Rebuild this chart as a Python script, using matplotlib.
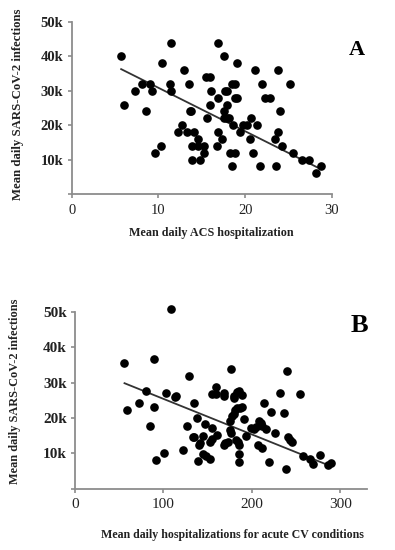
import matplotlib.pyplot as plt
import numpy as np

# panel A: mean daily ACS hospitalization vs mean daily infections (k)
acs_x = [11.4, 16.9, 5.7, 17.5, 10.4, 19.0, 12.9, 21.1, 23.8, 15.5, 15.9,
         8.1, 9.0, 11.3, 13.5, 18.5, 18.8, 21.9, 25.2,
         7.3, 9.3, 11.5, 16.0, 17.7, 17.9,
         16.9, 18.8, 19.0, 22.3, 22.8,
         6.0, 15.9, 17.9,
         8.6, 13.6, 13.8, 17.5, 24.0,
         15.6, 17.5, 17.9, 18.1, 20.7,
         12.7, 18.6, 19.8, 20.2, 21.3,
         12.25, 13.25, 14.1, 16.9, 19.4, 23.8,
         14.6, 17.35, 20.5, 23.4,
         10.25, 13.9, 14.6, 15.2, 16.7, 24.2,
         9.6, 15.2, 18.2, 18.8, 20.9, 25.5,
         13.9, 14.8, 26.5, 27.4,
         18.5, 21.7, 23.6, 28.7,
         28.1]
acs_y = [44, 44, 40, 40, 38, 38, 36, 36, 36, 34, 34,
         32, 32, 32, 32, 32, 32, 32, 32,
         30, 30, 30, 30, 30, 30,
         28, 28, 28, 28, 28,
         26, 26, 26,
         24, 24, 24, 24, 24,
         22, 22, 22, 22, 22,
         20, 20, 20, 20, 20,
         18, 18, 18, 18, 18, 18,
         16, 16, 16, 16,
         14, 14, 14, 14, 14, 14,
         12, 12, 12, 12, 12, 12,
         10, 10, 10, 10,
         8, 8, 8, 8,
         6]
acs_fit_x = [5.7, 28.5]
acs_fit_y = [36.3, 7.5]

# panel B: mean daily hospitalizations for acute CV conditions vs infections (k)
cv_x = [109, 55, 89, 129, 176, 240, 58.5, 72, 80, 85, 89.4, 91.4, 101, 103,
        113, 114.5, 122, 127, 134.6, 133, 134.6, 138, 139.5, 140, 141.4, 145,
        146.8, 145, 148, 153, 153, 155, 155.5, 155.5, 159.5, 159.5, 160.5,
        168, 169, 168, 170, 172.6, 175, 176.5, 175.7, 177.5, 179.5, 179.5,
        179.5, 181, 183, 187, 189, 183, 186, 188.6, 182, 184, 186, 185, 185.7,
        191, 194, 199, 203, 205, 208, 210, 211, 207, 211, 213.7, 216, 219,
        222, 226.6, 231.6, 237, 239, 241, 243, 245, 255, 258, 266, 269,
        277.6, 286, 290]
cv_y = [50.8, 35.4, 36.6, 31.9, 33.7, 33.2, 22.2, 24.3, 27.7, 17.7, 23.1, 8.0,
        10.2, 27.0, 25.8, 26.2, 11.0, 17.7, 24.3, 14.5, 14.7, 19.9, 7.7, 12.3,
        13.0, 9.9, 18.4, 15.0, 9.1, 8.3, 13.1, 13.9, 17.2, 26.7, 28.7, 26.7,
        15.3, 26.9, 26.1, 12.4, 12.8, 13.1, 16.6, 15.6, 19.1, 20.4, 21.0,
        26.3, 25.5, 22.2, 22.7, 22.7, 23.1, 27.2, 27.5, 26.6, 13.7, 13.1,
        12.3, 9.9, 7.5, 19.8, 14.9, 17.2, 17.0, 17.4, 19.1, 18.7, 17.7, 12.3,
        11.5, 24.3, 17.0, 7.5, 21.6, 15.8, 27.0, 21.3, 5.5, 14.5, 13.7, 13.1,
        26.8, 9.1, 8.5, 7.0, 9.4, 6.6, 7.4]
cv_fit_x = [56, 285]
cv_fit_y = [29.8, 6.8]

ylabels = ['0', '10k', '20k', '30k', '40k', '50k']
ylab = 'Mean daily SARS-CoV-2 infections'

plt.rcParams['font.family'] = ['Liberation Serif', 'DejaVu Serif']
W, H = 395, 550
fig = plt.figure(figsize=(W / 100, H / 100), dpi=100)


def px_axes(l, t, r, b):
    return fig.add_axes([l / W, 1 - b / H, (r - l) / W, (b - t) / H])


def style(ax, xticks, xsize, ysize):
    for s in ['top', 'right']:
        ax.spines[s].set_visible(False)
    for s in ['left', 'bottom']:
        ax.spines[s].set_color('#8c8c8c')
        ax.spines[s].set_linewidth(1.3)
    ax.set_xticks(xticks)
    ax.set_xticklabels([str(t) for t in xticks], fontsize=xsize)
    ax.set_yticks(range(0, 60, 10))
    ax.set_yticklabels([''] + ylabels[1:], fontweight='bold', fontsize=ysize)
    ax.tick_params(axis='both', colors='#8c8c8c', length=3, width=1.2, labelcolor='#222222')
    ax.tick_params(axis='x', pad=4)
    ax.tick_params(axis='y', pad=3)


# ---- A
axA = px_axes(71.7, 22, 332, 194)
axA.scatter(acs_x, acs_y, s=27, color='black', zorder=3, clip_on=False)
axA.plot(acs_fit_x, acs_fit_y, color='#333333', lw=1.3)
axA.set_xlim(0, 30)
axA.set_ylim(0, 50)
style(axA, [0, 10, 20, 30], 10.5, 10.5)
fig.text(18 / W, 1 - 104 / H, ylab, rotation=90, fontsize=9.2, fontweight='bold',
         ha='center', va='center', color='#222222')
fig.text(211 / W, 1 - 233 / H, 'Mean daily ACS hospitalization', fontsize=8.7,
         fontweight='bold', ha='center', va='center', color='#222222')
fig.text(357 / W, 1 - 50 / H, 'A', fontsize=16, fontweight='bold',
         ha='center', va='center', color='black')

# ---- B
axB = px_axes(75, 311.7, 366.7, 488.7)
axB.scatter(cv_x, cv_y, s=27, color='black', zorder=3, clip_on=False)
axB.plot(cv_fit_x, cv_fit_y, color='#333333', lw=1.3)
axB.set_xlim(0, 330)
axB.set_ylim(0, 50)
style(axB, [0, 100, 200, 300], 11, 11)
fig.text(15 / W, 1 - 391 / H, ylab, rotation=90, fontsize=8.8, fontweight='bold',
         ha='center', va='center', color='#222222')
fig.text(232 / W, 1 - 535 / H, 'Mean daily hospitalizations for acute CV conditions',
         fontsize=8.6, fontweight='bold', ha='center', va='center', color='#222222')
fig.text(359 / W, 1 - 325 / H, 'B', fontsize=19, fontweight='bold',
         ha='center', va='center', color='black')

fig.savefig('out.png', dpi=100)
